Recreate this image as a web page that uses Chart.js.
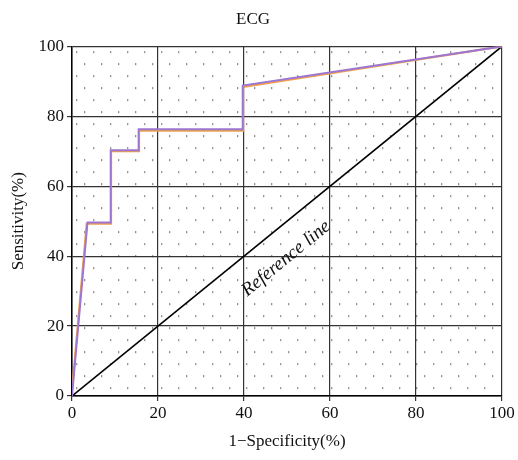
<!DOCTYPE html>
<html><head><meta charset="utf-8">
<script src="https://cdn.jsdelivr.net/npm/chart.js@4"></script>
<style>html,body{margin:0;padding:0;background:#fff}#wrap{width:518px;height:460px}</style>
</head><body><div id="wrap"><canvas id="c" width="518" height="460"></canvas></div>
<script>
const title = 'ECG';
const xTitle = '1\u2212Specificity(%)';
const yTitle = 'Sensitivity(%)';
const refLabel = 'Reference line';
const xTicks = [0, 20, 40, 60, 80, 100];
const yTicks = [0, 20, 40, 60, 80, 100];
const fprPurple = [0, 3.6, 9, 9, 15.5, 15.5, 39.7, 39.7, 100];
const tprPurple = [0, 49.6, 49.6, 70.3, 70.3, 76.3, 76.3, 88.8, 100];
const fprOrange = [0, 3.4, 9.1, 9.1, 15.6, 15.6, 39.8, 39.8, 100];
const tprOrange = [1.5, 49.3, 49.3, 70.0, 70.0, 75.9, 75.9, 88.4, 100];
const refX = [0, 100];
const refY = [0, 100];

const pts = (xs, ys) => xs.map((x, i) => ({x, y: ys[i]}));

function dotPattern(ctx) {
  const t = document.createElement('canvas');
  t.width = 34; t.height = 24;
  const g = t.getContext('2d');
  g.fillStyle = '#444';
  [[4,5],[21,5],[12,17],[29,17]].forEach(([a,b]) => g.fillRect(a, b, 1.3, 1.3));
  return ctx.createPattern(t, 'repeat');
}

const bgPlugin = {
  id: 'bg',
  beforeDraw(chart) {
    const {ctx, chartArea: a} = chart;
    ctx.save();
    ctx.fillStyle = dotPattern(ctx);
    ctx.translate(a.left, a.top);
    ctx.fillRect(0, 0, a.right - a.left, a.bottom - a.top);
    ctx.restore();
  }
};
const labelPlugin = {
  id: 'reflabel',
  afterDatasetsDraw(chart) {
    const {ctx, scales: {x, y}} = chart;
    const px = x.getPixelForValue(49.8), py = y.getPixelForValue(39.3);
    const ang = Math.atan2(y.getPixelForValue(0) - y.getPixelForValue(100), x.getPixelForValue(100) - x.getPixelForValue(0));
    ctx.save();
    ctx.translate(px, py);
    ctx.rotate(-ang);
    ctx.font = 'italic 19px "Liberation Serif", serif';
    ctx.fillStyle = '#111';
    ctx.textAlign = 'center';
    ctx.textBaseline = 'middle';
    ctx.fillText(refLabel, 0, 0);
    ctx.restore();
  }
};

const serif = '"Liberation Serif", "Times New Roman", serif';
new Chart(document.getElementById('c'), {
  type: 'line',
  data: {
    datasets: [
      {data: pts(fprPurple, tprPurple), borderColor: '#9d76d4', borderWidth: 2, pointRadius: 0, tension: 0},
      {data: pts(fprOrange, tprOrange), borderColor: '#f0a04a', borderWidth: 2, pointRadius: 0, tension: 0},
      {data: pts(refX, refY), borderColor: '#000', borderWidth: 1.6, pointRadius: 0, tension: 0}
    ]
  },
  options: {
    responsive: false, animation: false,
    layout: {padding: {left: 4, right: 16, top: 4, bottom: 4}},
    plugins: {
      legend: {display: false}, tooltip: {enabled: false},
      title: {display: true, text: title, color: '#111', font: {family: serif, size: 17, weight: 'normal'}, padding: {top: 5, bottom: 17}}
    },
    scales: {
      x: {
        type: 'linear', min: 0, max: 100,
        afterBuildTicks: s => { s.ticks = xTicks.map(v => ({value: v})); },
        ticks: {color: '#111', font: {family: serif, size: 17}, padding: 2, maxRotation: 0},
        grid: {color: '#333', lineWidth: 1.2, tickLength: 5, drawTicks: true},
        border: {color: '#000', width: 1.5},
        title: {display: true, text: xTitle, color: '#111', font: {family: serif, size: 17}, padding: {top: 2}},
        afterFit: s => { s.height = 60; }
      },
      y: {
        type: 'linear', min: 0, max: 100,
        afterBuildTicks: s => { s.ticks = yTicks.map(v => ({value: v})); },
        ticks: {color: '#111', font: {family: serif, size: 17}, padding: 3},
        grid: {color: '#333', lineWidth: 1.2, tickLength: 5},
        border: {color: '#000', width: 1.5},
        title: {display: true, text: yTitle, color: '#111', font: {family: serif, size: 17}, padding: {bottom: 2}},
        afterFit: s => { s.width = 68; }
      }
    }
  },
  plugins: [bgPlugin, labelPlugin]
});
</script></body></html>
